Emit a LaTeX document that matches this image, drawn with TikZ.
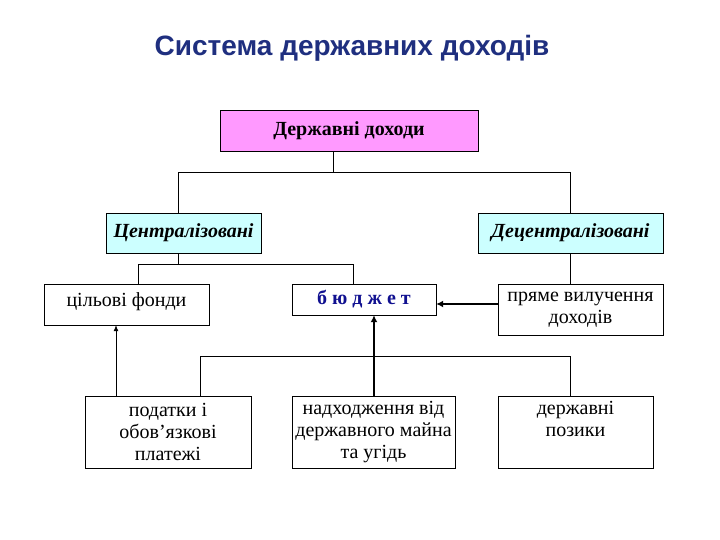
\documentclass[tikz,border=0pt]{standalone}
\usepackage{fontspec}
\setmainfont{Liberation Serif}
\newfontfamily\titlefont{Liberation Sans}
\usetikzlibrary{arrows.meta}
\definecolor{pinkbox}{HTML}{FF99FF}
\definecolor{cyanbox}{HTML}{CCFFFF}
\definecolor{titleblue}{HTML}{1F2F7F}
\definecolor{budgetblue}{HTML}{101090}
\tikzset{
  box/.style={draw, inner sep=0pt, align=center, font=\fontsize{20}{22}\selectfont},
  link/.style={line width=0.8pt},
  feed/.style={line width=0.8pt, -{Latex[length=6pt,width=5pt]}},
  mainfeed/.style={line width=2pt, -{Latex[length=7pt,width=7pt]}}
}
\begin{document}
\begin{tikzpicture}[x=1pt,y=-1pt]
\useasboundingbox (0,0) rectangle (720,540);

\node[font=\titlefont\bfseries\fontsize{28}{32}\selectfont, text=titleblue] (title) at (352,48) {Система державних доходів};

% top level
\node[box, fill=pinkbox, minimum width=258, minimum height=41, font=\bfseries\fontsize{20}{22}\selectfont] (rev) at (349,130.5) {Державні доходи};
\node[box, fill=cyanbox, minimum width=155, minimum height=40, font=\bfseries\itshape\fontsize{20}{22}\selectfont] (cen) at (183.5,233) {Централізовані};
\node[box, fill=cyanbox, minimum width=185, minimum height=40, font=\bfseries\itshape\fontsize{20}{22}\selectfont] (dec) at (570.5,233) {Децентралізовані};

% middle level
\node[box, minimum width=165, minimum height=41, text depth=10pt] (funds) at (126.5,304.5) {цільові фонди};
\node[box, minimum width=144, minimum height=31, text=budgetblue, font=\bfseries\fontsize{20}{22}\selectfont] (budget) at (364,299.5) {б ю д ж е т};
\node[box, minimum width=165, minimum height=51] (direct) at (580.5,309.5) {пряме вилучення\\доходів};

% bottom level
\node[box, minimum width=166, minimum height=72] (taxes) at (168,432) {податки і\\обов’язкові\\платежі};
\node[box, minimum width=163, minimum height=72] (property) at (373.5,432) {надходження від\\державного майна\\та угідь};
\node[box, minimum width=155, minimum height=72, text depth=26pt] (loans) at (575.5,432) {державні\\позики};

% junctions
\coordinate (j1) at (333,172);
\coordinate (j2) at (178,264);
\coordinate (j3) at (200,356);

\draw[link] (rev.south -| j1) -- (j1);
\draw[link] (j1) -| (cen.north -| j2);
\draw[link] (j1) -| (dec.north);
\draw[link] (cen.south -| j2) -- (j2);
\draw[link] (j2) -| (funds.north -| 138,0);
\draw[link] (j2) -| (budget.north -| 353,0);
\draw[link] (dec.south) -- (direct.north -| dec.south);
\draw[link] (taxes.north -| j3) -- (j3) -| (loans.north -| 570,0);

\draw[feed] (taxes.north -| 116,0) -- (funds.south -| 116,0);
\draw[mainfeed] (property.north -| 374,0) -- (budget.south -| 374,0);
\draw[mainfeed] (direct.west |- 0,304) -- (budget.east |- 0,304);

\end{tikzpicture}
\end{document}
